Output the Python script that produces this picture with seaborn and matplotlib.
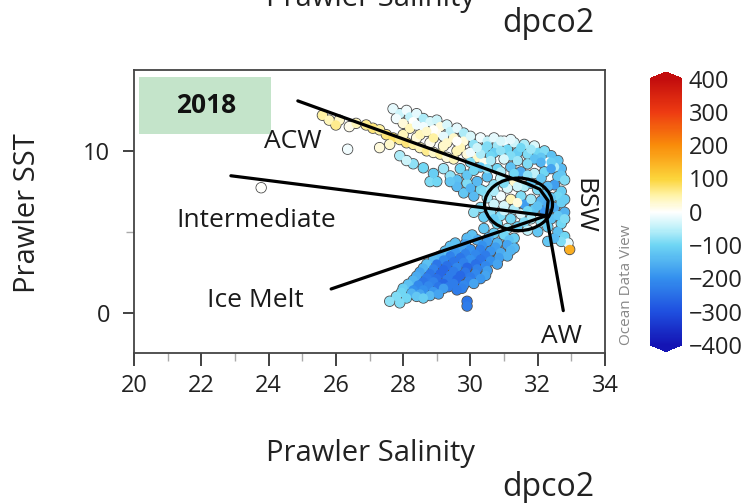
import numpy as np
import pandas as pd
import matplotlib
matplotlib.use("Agg")
import matplotlib.pyplot as plt
import seaborn as sns
from matplotlib.colors import LinearSegmentedColormap, Normalize
from matplotlib.cm import ScalarMappable
from matplotlib.patches import Ellipse, Rectangle

# (salinity, SST, dpco2), grouped by part of the cloud
acw_band = [
    (25.6, 12.2, 50), (25.8, 11.9, 40), (26.1, 11.9, 30), (26.0, 11.6, 60),
    (26.4, 11.5, 10), (26.6, 11.7, 40), (26.9, 11.6, 60), (27.1, 11.4, 70),
    (27.3, 11.3, 50), (27.5, 11.0, 70), (27.7, 10.8, 80), (27.9, 10.7, 60),
    (28.1, 10.5, 70), (28.3, 10.4, 50), (28.5, 10.2, 40), (28.7, 10.0, 60),
    (28.9, 9.9, 30), (29.1, 9.8, 50), (29.3, 9.6, 20), (29.5, 9.5, 40),
    (28.0, 11.0, 40), (28.4, 10.8, 20), (28.8, 10.5, 10), (29.2, 10.3, 30),
    (29.6, 10.0, 40), (29.9, 9.8, 20), (30.2, 9.6, 30), (30.4, 9.3, 10),
    (26.35, 10.1, -10), (27.3, 10.2, 20), (27.6, 10.4, 30), (23.78, 7.72, 0),
]
acw_lower_edge = [
    (27.9, 9.7, -60), (28.3, 9.2, -80), (28.6, 8.95, -100), (28.8, 8.1, -90),
    (29.0, 8.1, -100), (29.4, 8.45, -80), (29.8, 7.4, -120), (28.1, 9.4, -40),
    (28.9, 8.6, -110), (29.2, 8.9, -70), (29.6, 8.2, -130), (29.9, 8.0, -90),
    (30.1, 7.2, -140), (30.3, 7.6, -100), (29.6, 7.8, -140), (29.4, 8.1, -120),
    (30.0, 7.7, -150),
]
acw_top = [
    (27.7, 12.6, -20), (27.9, 12.3, -40), (28.1, 12.5, -10), (28.2, 12.1, -50),
    (28.4, 12.3, -20), (28.3, 11.8, 0), (28.6, 12.0, -60), (28.8, 11.8, -30),
    (28.6, 11.5, -10), (29.0, 11.9, -40), (29.1, 11.5, 20), (29.3, 11.6, -30),
    (29.0, 11.1, 10), (29.4, 11.2, -50), (29.6, 11.4, -20), (29.5, 10.8, 30),
    (29.8, 11.1, -60), (29.8, 10.6, 20), (30.0, 10.9, -30), (30.1, 10.4, -80),
    (30.3, 10.8, -10), (30.5, 10.6, -50), (30.4, 10.1, -90), (30.7, 10.8, -20),
    (30.8, 10.3, -70), (30.7, 9.9, -110), (31.0, 10.6, -10), (31.1, 10.1, -100),
    (31.3, 10.5, -40), (31.4, 9.9, -110), (31.6, 10.4, -60), (31.7, 9.8, -90),
    (31.9, 10.3, -30), (32.0, 9.9, -100), (32.2, 10.0, -90), (32.4, 9.7, -130),
    (32.6, 9.4, -120), (32.7, 8.9, -140), (32.5, 9.0, -60), (32.3, 9.3, 0),
    (28.9, 11.3, 0), (29.2, 10.9, -20), (29.7, 10.2, 40), (30.0, 9.9, -10),
    (30.3, 9.8, -60), (28.5, 11.0, 40), (27.8, 12.0, -10), (28.0, 11.7, 20),
    (28.2, 11.4, 40), (28.4, 11.6, -10), (28.7, 11.2, 30), (28.9, 10.8, 50),
    (29.3, 10.5, 30), (29.6, 10.6, 0), (30.2, 10.2, -40), (30.5, 10.3, -90),
    (30.9, 10.6, -30), (31.2, 10.7, -20), (31.5, 10.2, -100), (31.8, 10.1, -70),
    (32.1, 9.6, -120), (32.4, 9.3, -110), (30.9, 10.0, -80), (30.6, 9.7, -100),
    (31.2, 9.7, -90), (31.9, 9.5, -130), (32.7, 8.5, -120),
]
bsw_upper = [
    (30.0, 9.3, -90), (30.3, 9.0, -120), (30.6, 9.4, -60), (30.8, 8.9, -100),
    (31.0, 9.5, -30), (31.2, 9.0, -130), (31.4, 9.4, -70), (31.5, 8.7, -160),
    (31.7, 9.2, -90), (31.9, 8.6, -50), (32.1, 9.3, -150), (32.2, 8.7, -100),
    (32.4, 8.9, -170), (32.6, 8.4, -120), (32.8, 8.2, -90), (32.5, 7.9, -180),
    (30.5, 8.4, -130), (30.7, 7.9, -80), (30.9, 8.3, -50), (31.1, 7.7, -30),
    (31.3, 8.1, 30), (31.6, 7.8, -60), (31.8, 8.0, -120), (32.0, 7.6, -90),
    (32.3, 7.8, -140), (32.7, 7.5, -110), (30.2, 8.1, -140), (30.4, 7.5, -90),
    (29.7, 8.9, -100), (29.9, 8.5, -120), (30.1, 8.8, -100), (30.5, 8.9, -80),
    (30.9, 8.7, -60), (31.3, 8.6, -100), (31.7, 8.5, -80), (32.1, 8.3, -120),
    (31.4, 7.8, -40), (31.0, 8.0, -90), (30.6, 7.6, -70), (32.2, 7.3, -130),
    (32.6, 7.2, -100),
]
bsw_core = [
    (30.5, 7.1, -70), (30.7, 6.7, -40), (30.6, 6.2, -80), (30.9, 7.2, -10),
    (31.0, 6.6, -30), (30.9, 6.0, -90), (31.2, 7.0, 40), (31.3, 6.4, -60),
    (31.2, 5.8, -100), (31.5, 7.2, -90), (31.6, 6.7, -180), (31.5, 6.1, -30),
    (31.8, 7.0, -70), (31.9, 6.4, -120), (31.8, 5.8, -60), (32.1, 6.9, -150),
    (32.2, 6.3, -190), (32.1, 5.6, -80), (32.4, 7.1, -120), (32.5, 6.5, -160),
    (32.4, 5.8, -130), (32.7, 6.8, -110), (32.8, 6.2, -150), (32.7, 5.5, -100),
    (31.4, 5.3, -110), (31.7, 5.1, -50), (32.0, 5.0, -120), (30.8, 5.5, -100),
    (31.1, 5.2, -70), (30.3, 6.5, -90), (30.4, 5.9, -110), (30.1, 6.2, -80),
    (30.7, 7.5, -60), (31.0, 6.3, -40), (31.4, 6.8, 20), (31.7, 6.3, -100),
    (32.0, 6.6, -130), (32.3, 6.7, -160), (32.6, 6.0, -120), (32.3, 5.3, -110),
    (31.6, 5.6, -90), (30.7, 5.8, -110), (32.8, 5.8, -90), (32.8, 7.0, -110),
]
bsw_tail = [
    (32.6, 5.0, -130), (32.8, 4.7, -100), (32.9, 4.3, -20), (32.95, 3.9, 150),
    (32.7, 4.4, -90), (32.3, 4.4, -120), (32.5, 4.6, -140),
]
ice_melt = [
    (30.4, 5.2, -120), (30.7, 4.9, -110), (31.0, 4.8, -100), (31.3, 4.6, -110),
    (30.05, 4.8, -130), (30.55, 4.65, -150), (31.15, 4.5, -130),
    (29.9, 4.6, -140), (30.2, 4.5, -160), (30.5, 4.4, -180), (30.8, 4.3, -150),
    (31.1, 4.2, -170), (31.3, 4.0, -140),
    (29.55, 4.3, -130), (29.85, 4.25, -170), (30.35, 4.15, -200), (30.75, 4.05, -180),
    (31.2, 3.85, -150),
    (29.4, 4.1, -130), (29.7, 4.0, -170), (30.0, 3.9, -200), (30.3, 3.9, -220),
    (30.6, 3.8, -190), (30.9, 3.7, -160), (31.1, 3.5, -150),
    (29.25, 3.8, -130), (29.55, 3.75, -190), (29.85, 3.65, -220), (30.15, 3.6, -210),
    (30.45, 3.55, -230), (30.85, 3.4, -180),
    (29.1, 3.5, -150), (29.4, 3.5, -220), (29.7, 3.4, -240), (30.0, 3.3, -200),
    (30.3, 3.3, -240), (30.6, 3.2, -200), (30.8, 3.0, -170),
    (28.9, 3.3, -140), (29.2, 3.25, -210), (29.5, 3.15, -240), (29.8, 3.1, -220),
    (30.15, 3.0, -250), (30.45, 2.9, -210),
    (28.7, 3.0, -130), (29.0, 3.0, -240), (29.3, 2.9, -250), (29.6, 2.8, -210),
    (29.9, 2.8, -260), (30.2, 2.7, -220), (30.5, 2.6, -180),
    (28.6, 2.75, -150), (28.9, 2.7, -220), (29.2, 2.65, -260), (29.5, 2.55, -230),
    (29.85, 2.5, -240), (30.15, 2.4, -210), (30.45, 2.3, -170),
    (28.5, 2.5, -170), (28.8, 2.4, -240), (29.1, 2.4, -260), (29.4, 2.3, -230),
    (29.7, 2.3, -260), (30.0, 2.2, -230), (30.3, 2.1, -190),
    (28.4, 2.25, -160), (28.7, 2.15, -230), (29.0, 2.1, -250), (29.3, 2.05, -230),
    (29.6, 2.05, -260), (29.95, 1.95, -220),
    (28.3, 2.0, -150), (28.6, 1.9, -240), (28.9, 1.9, -220), (29.2, 1.8, -260),
    (29.5, 1.8, -230), (29.8, 1.7, -210), (30.1, 1.8, -170),
    (28.15, 1.75, -130), (28.45, 1.7, -210), (28.75, 1.65, -210), (29.05, 1.6, -240),
    (29.35, 1.6, -230), (29.75, 1.5, -220),
    (28.0, 1.5, -110), (28.3, 1.4, -200), (28.6, 1.4, -200), (28.9, 1.3, -190),
    (29.2, 1.5, -180), (29.6, 1.4, -230),
    (27.95, 1.25, -100), (28.25, 1.2, -150), (28.5, 1.15, -170), (28.8, 1.05, -140),
    (29.05, 1.15, -170),
    (27.8, 1.0, -90), (28.1, 0.9, -100), (28.4, 1.0, -120), (28.6, 0.9, -110),
    (27.6, 0.7, -80), (27.9, 0.6, -90), (29.9, 0.7, -240), (29.9, 0.4, -230),
]

# colour scale of the dpco2 bar
cbar_ticks = list(range(-400, 401, 100))
cmap_levels = [-400, -300, -200, -100, -50, 0, 50, 100, 200, 300, 400]
cmap_colors = ['#1414b4', '#1f50e0', '#3490ee', '#6fd6f4', '#bff1f9', '#ffffff',
               '#fff3a6', '#fcd43a', '#f98c0a', '#ee3b12', '#c30d0d']

# labels and guide lines drawn over the cloud
water_masses = [("ACW", 24.71, 10.56, 0), ("Intermediate", 23.63, 5.68, 0),
                ("Ice Melt", 23.6, 0.74, 0), ("BSW", 33.37, 6.6, -90),
                ("AW", 32.72, -1.48, 0)]
acw_line = ([24.87, 31.72, 32.06, 32.31, 32.26], [13.09, 7.94, 7.63, 6.91, 5.99])
intermediate_line = ([22.88, 32.26], [8.46, 5.99])
ice_line = ([25.86, 32.2], [1.46, 5.95])
aw_line = ([32.26, 32.76], [5.99, 0.12])

rows = acw_band + acw_lower_edge + acw_top + bsw_upper + bsw_core + bsw_tail + ice_melt
df = pd.DataFrame(rows, columns=["salinity", "sst", "dpco2"])

sns.set_style("ticks")
plt.rcParams['font.family'] = ['Open Sans', 'DejaVu Sans']

lo, hi = cmap_levels[0], cmap_levels[-1]
cmap = LinearSegmentedColormap.from_list(
    "odv", [((v - lo) / (hi - lo), c) for v, c in zip(cmap_levels, cmap_colors)])
cmap.set_over(cmap_colors[-1])
cmap.set_under(cmap_colors[0])
norm = Normalize(lo, hi)

fig = plt.figure(figsize=(7.45, 5.03), dpi=100)
ax = fig.add_axes([134 / 745, 150 / 503, 471 / 745, 283 / 503])

# outline layer, then fill layer on top so only the outer rim of the cloud keeps its edge
sns.scatterplot(data=df, x="salinity", y="sst", hue="dpco2", palette=cmap, hue_norm=norm,
                s=54, edgecolor="#555555", linewidth=0.8, legend=False, ax=ax, zorder=2)
sns.scatterplot(data=df, x="salinity", y="sst", hue="dpco2", palette=cmap, hue_norm=norm,
                s=46, linewidth=0, legend=False, ax=ax, zorder=2.1)

ax.add_patch(Rectangle((20.15, 11.05), 3.93, 3.52, facecolor="#c4e4ca",
                       edgecolor="none", zorder=1))
ax.text(22.14, 12.82, "2018", fontsize=19, fontweight="bold", ha="center", va="center",
        color="#111111", zorder=4)

for xs, ys in (acw_line, intermediate_line, ice_line, aw_line):
    ax.plot(xs, ys, color="black", lw=2.3, solid_capstyle="round",
            solid_joinstyle="round", zorder=3)
ax.add_patch(Ellipse((31.43, 6.69), 2.02, 3.25, fill=False, lw=2.3,
                     edgecolor="black", zorder=3))

for name, x, y, rot in water_masses:
    ax.text(x, y, name, fontsize=19, ha="center", va="center", rotation=rot,
            color="#1a1a1a", zorder=4)

ax.set_xlim(20, 34)
ax.set_ylim(-2.5, 15)
ax.set_xticks(range(20, 35, 2))
ax.set_xticks(range(21, 34, 2), minor=True)
ax.set_yticks([0, 10])
ax.set_yticks([5], minor=True)
ax.tick_params(which="major", direction="out", length=9, width=1.3, color="#333333",
               labelsize=17, labelcolor="#222222")
ax.tick_params(axis="x", which="major", pad=6)
ax.tick_params(axis="y", which="major", length=8, pad=9)
ax.tick_params(which="minor", direction="out", length=6, width=1.0, color="#aaaaaa")
for sp in ax.spines.values():
    sp.set_linewidth(1.3)
    sp.set_color("#444444")
ax.set_xlabel("")
ax.set_ylabel("")

fig.text(28 / 745, 1 - 213 / 503, "Prawler SST", rotation=90, fontsize=21,
         ha="center", va="center", color="#222222")
fig.text(370 / 745, 1 - 453 / 503, "Prawler Salinity", fontsize=21,
         ha="center", va="center", color="#222222")
fig.text(548 / 745, 1 - 487 / 503, "dpco2", fontsize=23, ha="center", va="center",
         color="#222222")
# copies of the labels from the panel above, cut by the top edge as in the source
fig.text(370 / 745, 1 - 6 / 503, "Prawler Salinity", fontsize=21, ha="center",
         va="baseline", color="#222222")
fig.text(548 / 745, 1 - 24 / 503, "dpco2", fontsize=23, ha="center", va="center",
         color="#222222")

cax = fig.add_axes([650 / 745, (503 - 351.5) / 503, 32 / 745, 279.5 / 503])
cb = fig.colorbar(ScalarMappable(norm=norm, cmap=cmap), cax=cax, extend="both",
                  extendfrac=0.025, ticks=cbar_ticks)
cb.outline.set_visible(False)
cax.tick_params(direction="in", length=4, width=1.4, color="#333333", left=True,
                right=True, labelsize=17, pad=5, labelcolor="#222222")
fig.text(626 / 745, 1 - 285 / 503, "Ocean Data View", rotation=90, fontsize=11,
         ha="center", va="center", color="#888888")

fig.savefig("out.png", dpi=100)
